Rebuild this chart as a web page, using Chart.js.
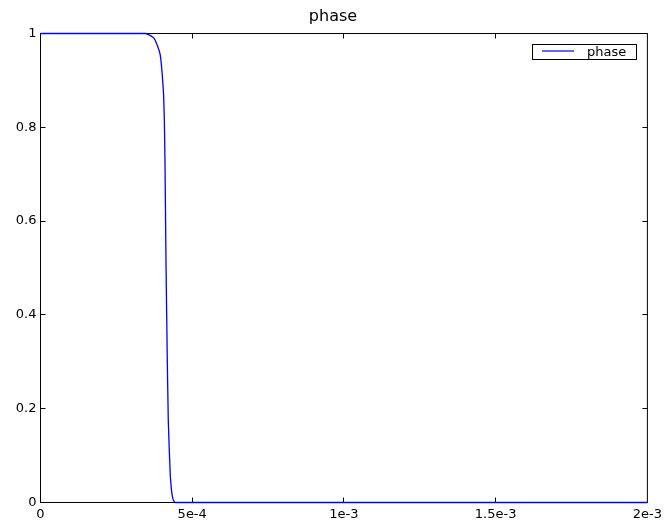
<!DOCTYPE html>
<html lang="en">
<head>
<meta charset="UTF-8">
<title>phase</title>
<script src="https://cdn.jsdelivr.net/npm/chart.js@4.4.2/dist/chart.umd.min.js"></script>
<style>
  html, body { margin: 0; padding: 0; background: #fff; }
</style>
</head>
<body>
<canvas id="phaseChart" width="666" height="525"></canvas>
<script>
// values
const seriesName = "phase";
const timeValues = [0, 3.0e-4, 3.46e-4, 3.61e-4, 3.74e-4, 3.848e-4, 3.947e-4, 4.013e-4, 4.056e-4,
  4.082e-4, 4.102e-4, 4.135e-4, 4.178e-4, 4.211e-4, 4.244e-4, 4.277e-4, 4.316e-4, 4.376e-4, 4.432e-4, 2e-3];
const phaseValues = [1, 1, 1, 0.996, 0.99, 0.975, 0.954, 0.912, 0.871,
  0.814, 0.729, 0.517, 0.304, 0.176, 0.112, 0.058, 0.026, 0.005, 0, 0];

const xTickValues = [0, 5e-4, 1e-3, 1.5e-3, 2e-3];
const xTickLabels = ["0", "5e-4", "1e-3", "1.5e-3", "2e-3"];
const yTickValues = [0, 0.2, 0.4, 0.6, 0.8, 1];
const yTickLabels = ["0", "0.2", "0.4", "0.6", "0.8", "1"];

const FONT = "DejaVu Sans";
const LINE_COLOR = "#0000ff";

// box, inward ticks, title and boxed legend, drawn the way the original plotter does
const framePlugin = {
  id: "frame",
  beforeDatasetsDraw(chart) {
    const { ctx, chartArea: a, scales } = chart;
    ctx.save();
    ctx.strokeStyle = "#000";
    ctx.lineWidth = 1;
    ctx.strokeRect(a.left, a.top, a.right - a.left, a.bottom - a.top);
    const len = 5;
    ctx.beginPath();
    xTickValues.slice(1, -1).forEach(v => {
      const px = Math.floor(scales.x.getPixelForValue(v)) + 0.5;
      ctx.moveTo(px, a.top); ctx.lineTo(px, a.top + len);
      ctx.moveTo(px, a.bottom); ctx.lineTo(px, a.bottom - len);
    });
    yTickValues.slice(1, -1).forEach(v => {
      const py = Math.floor(scales.y.getPixelForValue(v)) + 0.5;
      ctx.moveTo(a.left, py); ctx.lineTo(a.left + len, py);
      ctx.moveTo(a.right, py); ctx.lineTo(a.right - len, py);
    });
    ctx.stroke();
    ctx.restore();
  },
  afterDraw(chart) {
    const { ctx } = chart;
    ctx.save();
    ctx.fillStyle = "#000";
    ctx.font = "16px " + FONT;
    ctx.textAlign = "center";
    ctx.textBaseline = "alphabetic";
    ctx.fillText(seriesName, 333, 21);

    // legend
    ctx.strokeStyle = "#000";
    ctx.lineWidth = 1;
    ctx.strokeRect(532.5, 44.5, 104, 15);
    ctx.strokeStyle = LINE_COLOR;
    ctx.lineWidth = 1.2;
    ctx.beginPath();
    ctx.moveTo(542, 51); ctx.lineTo(574, 51);
    ctx.stroke();
    ctx.font = "13px " + FONT;
    ctx.textAlign = "left";
    ctx.fillText(seriesName, 587, 56);
    ctx.restore();
  }
};

new Chart(document.getElementById("phaseChart"), {
  type: "scatter",
  data: {
    datasets: [{
      label: seriesName,
      data: timeValues.map((t, i) => ({ x: t, y: phaseValues[i] })),
      showLine: true,
      borderColor: LINE_COLOR,
      borderWidth: 1.3,
      pointRadius: 0,
      // small tension keeps Chart.js off its pixel-column fast path
      tension: 0.05,
      clip: false
    }]
  },
  options: {
    responsive: false,
    animation: false,
    layout: { padding: { left: 0, top: 33.5, right: 18.5, bottom: 0 } },
    plugins: { legend: { display: false }, title: { display: false }, tooltip: { enabled: false } },
    scales: {
      x: {
        type: "linear",
        min: 0, max: 2e-3,
        afterBuildTicks: s => { s.ticks = xTickValues.map(v => ({ value: v })); },
        afterFit: s => { s.height = 22.5; },
        grid: { display: false, drawTicks: false },
        border: { display: false },
        ticks: {
          padding: 4,
          maxRotation: 0,
          autoSkip: false,
          color: "#000",
          font: { family: FONT, size: 13 },
          callback: (v, i) => xTickLabels[i]
        }
      },
      y: {
        type: "linear",
        min: 0, max: 1,
        afterBuildTicks: s => { s.ticks = yTickValues.map(v => ({ value: v })); },
        afterFit: s => { s.width = 40.5; },
        grid: { display: false, drawTicks: false },
        border: { display: false },
        ticks: {
          padding: 4,
          autoSkip: false,
          color: "#000",
          font: { family: FONT, size: 13 },
          callback: (v, i) => yTickLabels[i]
        }
      }
    }
  },
  plugins: [framePlugin]
});
</script>
</body>
</html>
